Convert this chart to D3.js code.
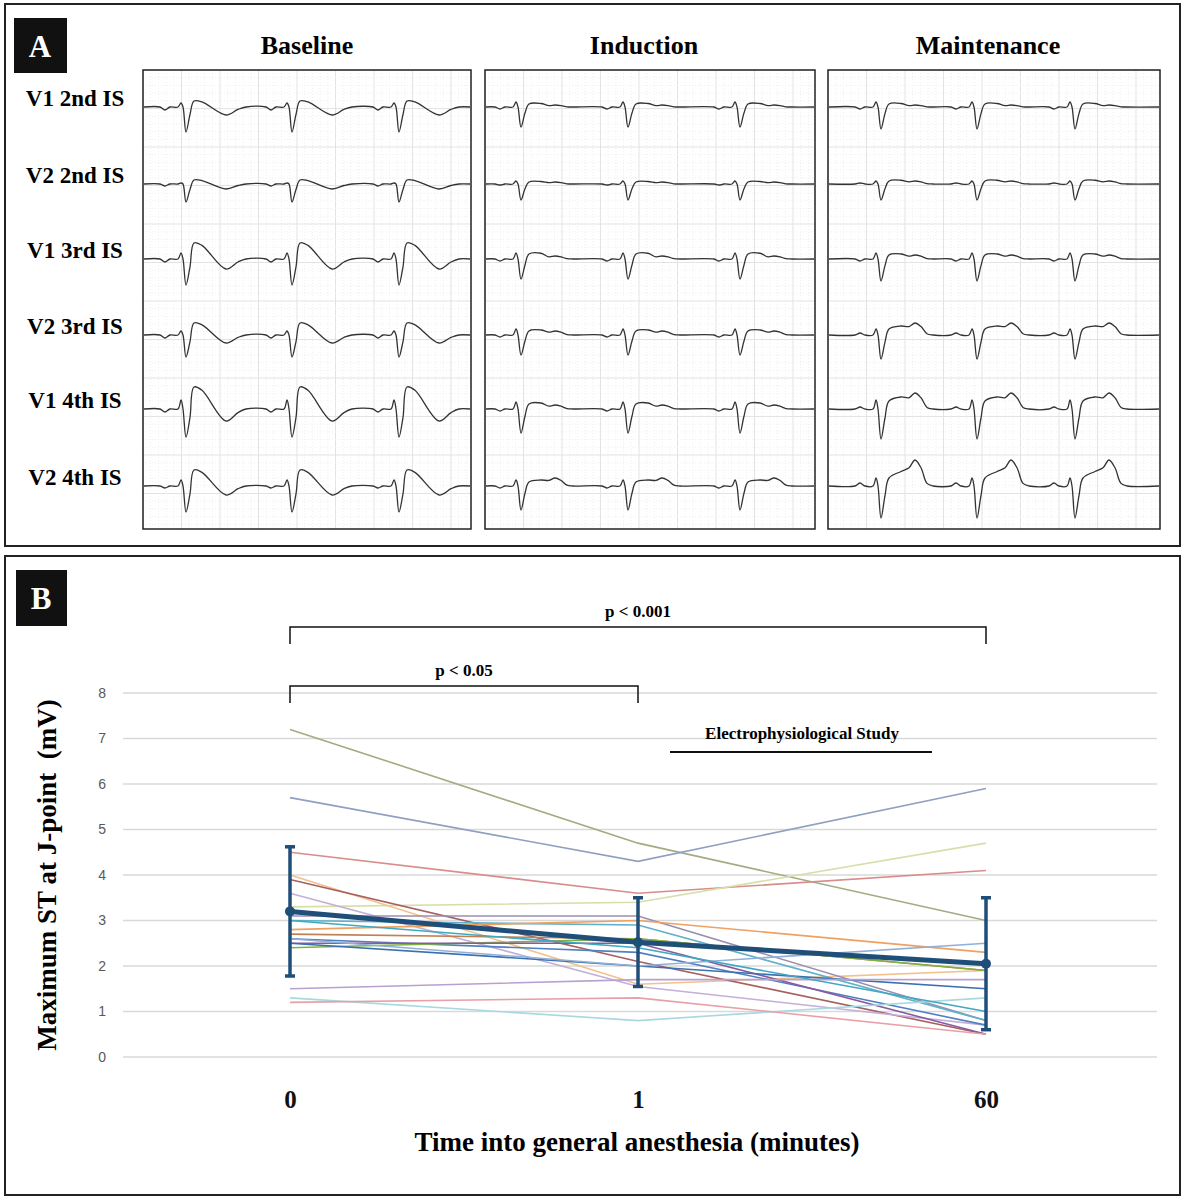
<!DOCTYPE html>
<html><head><meta charset="utf-8">
<script src="https://cdn.jsdelivr.net/npm/d3@7"></script>
<style>body{margin:0;background:#fff}</style>
</head><body>
<script>
// ---- panel A data: ECG beat features (px, up positive) per lead x phase
var phases = ["Baseline", "Induction", "Maintenance"];
var leads = ["V1 2nd IS", "V2 2nd IS", "V1 3rd IS", "V2 3rd IS", "V1 4th IS", "V2 4th IS"];
var beatCenters = [[186, 292, 399], [521, 628, 740], [881, 977, 1075]];
// S-wave depth
var sDepth = [[25, 18, 26, 22, 28, 26], [20, 16, 20, 20, 24, 24], [22, 16, 22, 24, 30, 32]];
// J-point elevation
var jElev = [[6, 4, 16, 12, 22, 16], [3, 2, 5, 4, 5, 4], [3, 3, 4, 6, 8, 8]];
// T-wave amplitude (negative = inverted)
var tAmp = [[-8, -5, -10, -8, -12, -9], [2, 2, 3, 4, 4, 8], [2, 3, 4, 12, 16, 26]];
var rAmp = [[4, 1, 6, 4, 9, 6], [5, 3, 6, 6, 7, 6], [5, 3, 6, 6, 9, 8]];
var pAmp = [[-3, -2, -3, -3, -3, -2], [-2, -1, -2, -2, -2, -2], [-2, 1, -2, 2, 2, 3]];

// ---- panel B data
var timeLabels = ["0", "1", "60"];
var patients = [
  [7.2, 4.7, 3.0], [5.7, 4.3, 5.9], [4.5, 3.6, 4.1], [3.3, 3.4, 4.7],
  [4.0, 1.6, 1.9], [3.9, 2.1, 0.5], [3.6, 1.55, 0.7], [3.1, 3.1, 0.8],
  [3.0, 2.9, 0.8], [2.8, 3.0, 2.3], [2.7, 2.6, 1.9], [2.6, 2.3, 0.7],
  [2.4, 2.6, 1.9], [2.5, 2.5, 0.5], [2.5, 2.0, 1.5], [2.6, 2.0, 2.5],
  [1.5, 1.7, 1.7], [1.3, 0.8, 1.3], [1.2, 1.3, 0.5], [3.0, 2.4, 1.0]
];
var patientColors = ["#a3ab80", "#8fa0c0", "#d98c8c", "#d4e0a8", "#f4c08c", "#a66060",
  "#c2b0d8", "#9a8fb0", "#5fb0c8", "#f0a060", "#c08050", "#5080c0",
  "#80b040", "#8a5aa0", "#3a70b0", "#90b0d8", "#b8a0d0", "#a8d8e0", "#e8a0a8", "#40a8c0"];
var meanST = [3.2, 2.52, 2.05];
var sdLow = [1.78, 1.55, 0.6];
var sdHigh = [4.62, 3.5, 3.5];
var yTicks = [0, 1, 2, 3, 4, 5, 6, 7, 8];

var W = 1186, H = 1200;
var svg = d3.select("body").append("svg").attr("width", W).attr("height", H);
var serif = "'Liberation Serif','Times New Roman',serif";

// ===== Panel A =====
svg.append("rect").attr("x", 5).attr("y", 4).attr("width", 1175).attr("height", 542)
  .attr("fill", "none").attr("stroke", "#222").attr("stroke-width", 2);
svg.append("rect").attr("x", 14).attr("y", 18).attr("width", 53).attr("height", 55).attr("fill", "#111");
svg.append("text").attr("x", 40).attr("y", 57).attr("text-anchor", "middle").attr("fill", "#fff")
  .attr("font-family", serif).attr("font-weight", "bold").attr("font-size", 31).text("A");

var boxX = [143, 485, 828], boxW = [328, 330, 332];
var leadY = [107, 184, 259, 335, 409, 486];
var titleX = [307, 644, 988];

var line = d3.line().curve(d3.curveCatmullRom.alpha(0.5));
phases.forEach(function (ph, pi) {
  var x0 = boxX[pi], w = boxW[pi];
  svg.append("text").attr("x", titleX[pi]).attr("y", 54).attr("text-anchor", "middle")
    .attr("font-family", serif).attr("font-weight", "bold").attr("font-size", 26).text(ph);
  var g = svg.append("g");
  // ECG grid
  var xs = d3.range(x0, x0 + w, 7.7), ys = d3.range(70, 529, 7.7);
  g.selectAll(".gx").data(xs).enter().append("line")
    .attr("x1", function (d) { return d; }).attr("x2", function (d) { return d; })
    .attr("y1", 70).attr("y2", 529)
    .attr("stroke", function (d, i) { return i % 5 === 0 ? "#e3e3e3" : "#efefef"; })
    .attr("stroke-dasharray", function (d, i) { return i % 5 === 0 ? null : "1,2"; });
  g.selectAll(".gy").data(ys).enter().append("line")
    .attr("y1", function (d) { return d; }).attr("y2", function (d) { return d; })
    .attr("x1", x0).attr("x2", x0 + w)
    .attr("stroke", function (d, i) { return i % 5 === 0 ? "#e3e3e3" : "#efefef"; })
    .attr("stroke-dasharray", function (d, i) { return i % 5 === 0 ? null : "1,2"; });
  svg.append("rect").attr("x", x0).attr("y", 70).attr("width", w).attr("height", 459)
    .attr("fill", "none").attr("stroke", "#222").attr("stroke-width", 1.5);

  leads.forEach(function (ld, li) {
    var y0 = leadY[li];
    var s = sDepth[pi][li], j = jElev[pi][li], t = tAmp[pi][li], r = rAmp[pi][li], p = pAmp[pi][li];
    var pts = [[x0 + 1, 0]];
    beatCenters[pi].forEach(function (c) {
      pts.push([c - 26, 0], [c - 21, p], [c - 16, 0], [c - 8, 0], [c - 5, r], [c - 3, 0], [c, -s], [c + 4, -s * 0.3]);
      if (t < 0) {
        pts.push([c + 8, j], [c + 16, j * 0.85], [c + 40, t], [c + 52, t * 0.3], [c + 60, 0]);
      } else {
        pts.push([c + 8, j], [c + 20, j + t * 0.25], [c + 28, t * 0.7], [c + 34, t], [c + 40, t * 0.7], [c + 46, t * 0.1], [c + 52, 0]);
      }
    });
    pts.push([x0 + w - 1, 0]);
    svg.append("path").attr("d", line(pts.map(function (q) { return [q[0], y0 - q[1]]; })))
      .attr("fill", "none").attr("stroke", "#333").attr("stroke-width", 1.3);
    if (pi === 0) {
      svg.append("text").attr("x", 75).attr("y", y0 - 1).attr("text-anchor", "middle")
        .attr("font-family", serif).attr("font-weight", "bold").attr("font-size", 23).text(ld);
    }
  });
});

// ===== Panel B =====
svg.append("rect").attr("x", 5).attr("y", 556).attr("width", 1175).attr("height", 639)
  .attr("fill", "none").attr("stroke", "#222").attr("stroke-width", 2);
svg.append("rect").attr("x", 16).attr("y", 570).attr("width", 51).attr("height", 56).attr("fill", "#111");
svg.append("text").attr("x", 41).attr("y", 609).attr("text-anchor", "middle").attr("fill", "#fff")
  .attr("font-family", serif).attr("font-weight", "bold").attr("font-size", 31).text("B");

var y = d3.scaleLinear().domain([0, 8]).range([1057, 693]);
var x = d3.scalePoint().domain(timeLabels).range([290, 986]);

svg.append("g").selectAll("line").data(yTicks).enter().append("line")
  .attr("x1", 123).attr("x2", 1157)
  .attr("y1", function (d) { return y(d); }).attr("y2", function (d) { return y(d); })
  .attr("stroke", "#d9d9d9").attr("stroke-width", 1.3);
var yAxis = svg.append("g").attr("transform", "translate(123,0)")
  .call(d3.axisLeft(y).tickValues(yTicks).tickSize(0).tickPadding(17));
yAxis.select(".domain").remove();
yAxis.selectAll("text").attr("font-family", "'Liberation Sans',Arial,sans-serif").attr("font-size", 14).attr("fill", "#595959");

var xAxis = svg.append("g").attr("transform", "translate(0,1078)")
  .call(d3.axisBottom(x).tickSize(0).tickPadding(12));
xAxis.select(".domain").remove();
xAxis.selectAll("text").attr("font-family", serif).attr("font-weight", "bold").attr("font-size", 25).attr("fill", "#111");

var pl = d3.line().x(function (d, i) { return x(timeLabels[i]); }).y(function (d) { return y(d); });
svg.append("g").selectAll("path").data(patients).enter().append("path")
  .attr("d", pl).attr("fill", "none")
  .attr("stroke", function (d, i) { return patientColors[i]; }).attr("stroke-width", 1.6);

// error bars
var eb = svg.append("g").attr("stroke", "#1f4e79").attr("stroke-width", 3.5);
timeLabels.forEach(function (t, i) {
  eb.append("line").attr("x1", x(t)).attr("x2", x(t)).attr("y1", y(sdLow[i])).attr("y2", y(sdHigh[i]));
  [sdLow[i], sdHigh[i]].forEach(function (v) {
    eb.append("line").attr("x1", x(t) - 5).attr("x2", x(t) + 5).attr("y1", y(v)).attr("y2", y(v));
  });
});
svg.append("path").attr("d", pl(meanST)).attr("fill", "none").attr("stroke", "#1f4e79").attr("stroke-width", 5);
svg.append("g").selectAll("circle").data(meanST).enter().append("circle")
  .attr("cx", function (d, i) { return x(timeLabels[i]); }).attr("cy", function (d) { return y(d); })
  .attr("r", 5).attr("fill", "#1f4e79");

// brackets
function bracket(x1, x2, yy, label) {
  svg.append("path").attr("d", "M" + x1 + "," + (yy + 17) + "V" + yy + "H" + x2 + "V" + (yy + 17))
    .attr("fill", "none").attr("stroke", "#111").attr("stroke-width", 1.5);
  svg.append("text").attr("x", (x1 + x2) / 2).attr("y", yy - 10).attr("text-anchor", "middle")
    .attr("font-family", serif).attr("font-weight", "bold").attr("font-size", 17).text(label);
}
bracket(x("0"), x("60"), 627, "p < 0.001");
bracket(x("0"), x("1"), 686, "p < 0.05");

svg.append("line").attr("x1", 670).attr("x2", 932).attr("y1", 752).attr("y2", 752)
  .attr("stroke", "#111").attr("stroke-width", 2);
svg.append("text").attr("x", 802).attr("y", 739).attr("text-anchor", "middle")
  .attr("font-family", serif).attr("font-weight", "bold").attr("font-size", 17).text("Electrophysiological Study");

svg.append("text").attr("x", 637).attr("y", 1151).attr("text-anchor", "middle")
  .attr("font-family", serif).attr("font-weight", "bold").attr("font-size", 27).text("Time into general anesthesia (minutes)");
svg.append("text").attr("transform", "translate(56,875) rotate(-90)").attr("text-anchor", "middle")
  .attr("font-family", serif).attr("font-weight", "bold").attr("font-size", 27).attr("xml:space", "preserve")
  .text("Maximum ST at J-point  (mV)");
</script>
</body></html>
